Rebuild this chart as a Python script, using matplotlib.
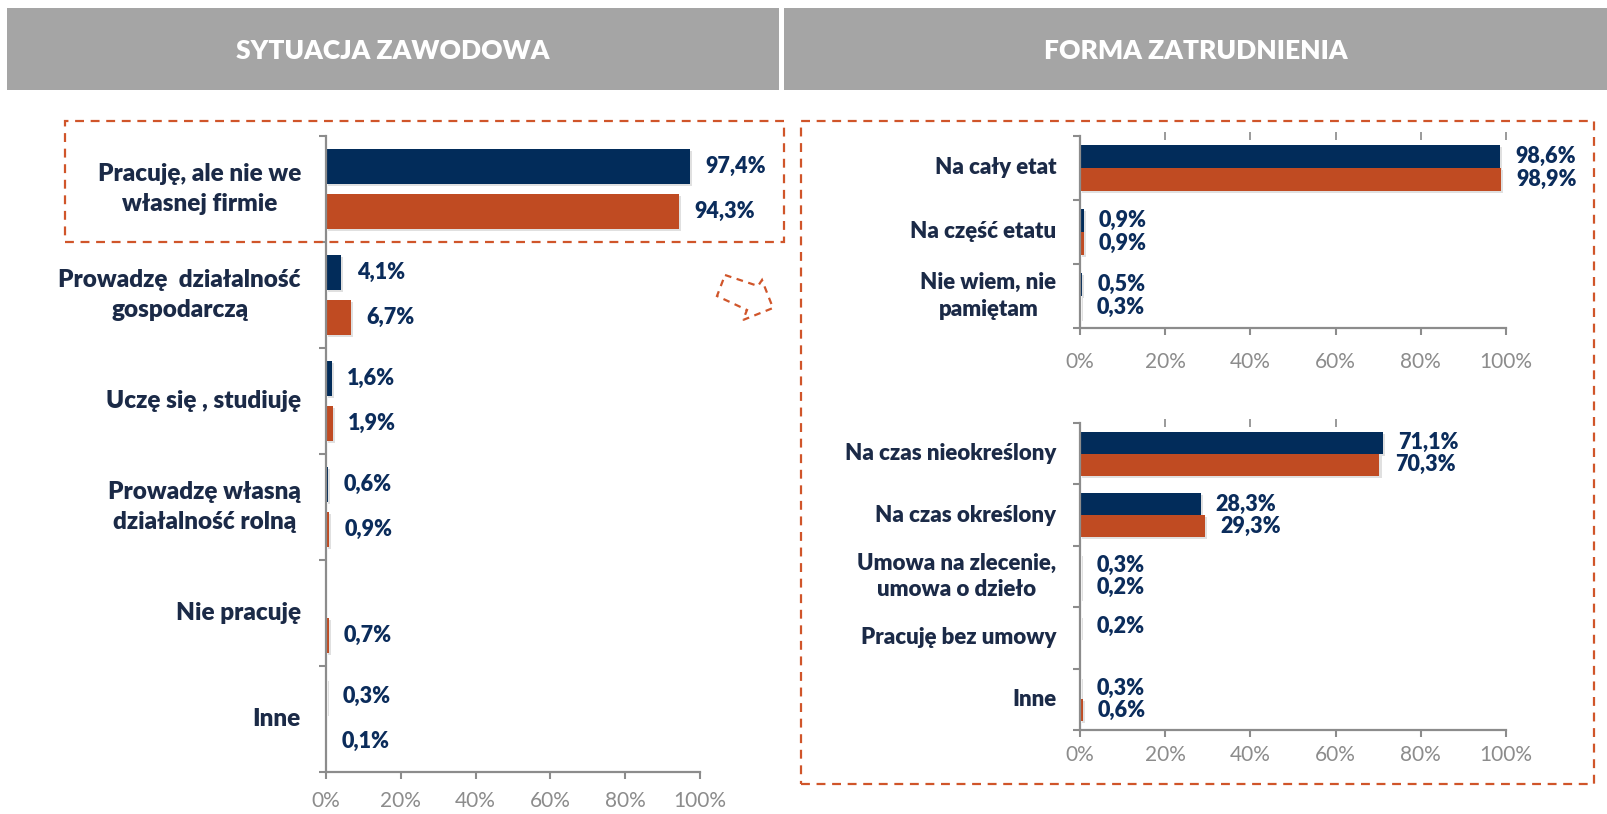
import matplotlib
matplotlib.use('Agg')
import matplotlib.pyplot as plt
import numpy as np
from matplotlib.patches import Rectangle, Polygon
import matplotlib.patheffects as pe

plt.rcParams['font.family'] = ['Lato', 'DejaVu Sans']

# ---------------- data ----------------
sit_categories = ['Pracuję, ale nie we\nwłasnej firmie',
                  'Prowadzę  działalność\ngospodarczą',
                  'Uczę się , studiuję',
                  'Prowadzę własną\ndziałalność rolną',
                  'Nie pracuję',
                  'Inne']
sit_navy = [97.4, 4.1, 1.6, 0.6, None, 0.3]
sit_orange = [94.3, 6.7, 1.9, 0.9, 0.7, 0.1]

etat_categories = ['Na cały etat', 'Na część etatu', 'Nie wiem, nie\npamiętam']
etat_navy = [98.6, 0.9, 0.5]
etat_orange = [98.9, 0.9, 0.3]

umowa_categories = ['Na czas nieokreślony', 'Na czas określony',
                    'Umowa na zlecenie,\numowa o dzieło',
                    'Pracuję bez umowy', 'Inne']
umowa_navy = [71.1, 28.3, 0.3, 0.2, 0.3]
umowa_orange = [70.3, 29.3, 0.2, None, 0.6]

x_ticks = [0, 20, 40, 60, 80, 100]
x_ticklabels = ['0%', '20%', '40%', '60%', '80%', '100%']
headers = ['SYTUACJA ZAWODOWA', 'FORMA ZATRUDNIENIA']

# ---------------- style ----------------
W, H = 1607, 814
NAVY = '#022C5A'
ORANGE = '#C04B22'
LABEL = '#1B2A47'
VALUE = '#0B2C5B'
AXC = '#8C8C8C'
TICKTXT = '#8C8C8C'
HEADER = '#A5A5A5'
DASH = '#D0552A'

fig = plt.figure(figsize=(W / 100, H / 100), dpi=100)


def frac(x0, y0, x1, y1):
    return [x0 / W, 1 - y1 / H, (x1 - x0) / W, (y1 - y0) / H]


def fpt(x, y):
    return (x / W, 1 - y / H)


# headers
for (x0, x1), txt in zip([(7, 779), (784, 1607)], headers):
    fig.patches.append(Rectangle(fpt(x0, 90), (x1 - x0) / W, 82 / H,
                                 transform=fig.transFigure, facecolor=HEADER,
                                 edgecolor='none'))
    fig.text((x0 + x1) / 2 / W, 1 - 51 / H, txt, ha='center', va='center',
             color='white', fontsize=19, fontweight='heavy')

# dashed frames
for (x0, y0, x1, y1) in [(65, 121, 784, 242), (801, 121, 1594, 784)]:
    fig.patches.append(Rectangle(fpt(x0, y1), (x1 - x0) / W, (y1 - y0) / H,
                                 transform=fig.transFigure, facecolor='none',
                                 edgecolor=DASH, linewidth=1.6,
                                 linestyle=(0, (4, 3))))

# dashed arrow
arrow_px = [(725, 275), (758, 286), (762, 280), (773, 308), (743, 320),
            (747, 310), (717, 296)]
fig.patches.append(Polygon([fpt(x, y) for x, y in arrow_px], closed=True,
                           transform=fig.transFigure, facecolor='none',
                           edgecolor=DASH, linewidth=1.6,
                           linestyle=(0, (3, 2.5))))

shadow = [pe.SimplePatchShadow(offset=(1.5, -1.5), shadow_rgbFace='#000000',
                               alpha=0.12), pe.Normal()]


def fmt(v):
    return f'{v:.1f}%'.replace('.', ',')


def panel(rect, cats, navy, orange, height, off, lab_gap, tick_pad,
          lab_size, lab_ls, top_ticks=None):
    ax = fig.add_axes(rect)
    n = len(cats)
    y = np.arange(n)
    for vals, sign, color in ((navy, -1, NAVY), (orange, 1, ORANGE)):
        v = np.array([0 if x is None else x for x in vals], dtype=float)
        bars = ax.barh(y + sign * off, v, height=height, color=color,
                       edgecolor='none')
        for b in bars:
            b.set_path_effects(shadow)
        for yi, val in zip(y, vals):
            if val is None:
                continue
            ax.annotate(fmt(val), xy=(val, yi + sign * off), xytext=(11, 0),
                        textcoords='offset points', ha='left', va='center',
                        fontsize=15.5, fontweight='heavy', color=VALUE)
    for yi, c in zip(y, cats):
        ax.annotate(c, xy=(0, yi), xytext=(-lab_gap, 0),
                    textcoords='offset points', ha='right', va='center',
                    multialignment='center', fontsize=lab_size,
                    fontweight='heavy', color=LABEL, linespacing=lab_ls)
    ax.set_xlim(0, 100)
    ax.set_ylim(n - 0.5, -0.5)
    ax.set_yticks(np.arange(n + 1) - 0.5)
    ax.set_yticklabels([])
    ax.set_xticks(x_ticks)
    ax.set_xticklabels(x_ticklabels)
    ax.tick_params(axis='y', direction='out', length=5, width=1.5, color=AXC)
    ax.tick_params(axis='x', direction='out', length=5, width=1.5, color=AXC,
                   labelsize=15, labelcolor=TICKTXT, pad=tick_pad)
    for s in ('top', 'right'):
        ax.spines[s].set_visible(False)
    for s in ('left', 'bottom'):
        ax.spines[s].set_color(AXC)
        ax.spines[s].set_linewidth(1.6)
    if top_ticks is not None:
        for t in top_ticks:
            ax.plot([t, t], [-0.5, -0.5], marker='|', markersize=6,
                    color='#9A9A9A', clip_on=False, markeredgewidth=1.2)
    ax.set_facecolor('none')
    return ax


panel(frac(326, 136, 700, 772), sit_categories, sit_navy, sit_orange,
      0.33, 0.21, 18, 9, 17.5, 1.42)
panel(frac(1080, 136, 1506, 328), etat_categories, etat_navy, etat_orange,
      0.36, 0.18, 17, 12, 16, 1.35, top_ticks=[20, 40, 60, 80, 100])
panel(frac(1080, 423, 1506, 730), umowa_categories, umowa_navy, umowa_orange,
      0.36, 0.18, 17, 6, 16, 1.35, top_ticks=[20, 40, 60])

fig.savefig('out.png', dpi=100, facecolor='white')
